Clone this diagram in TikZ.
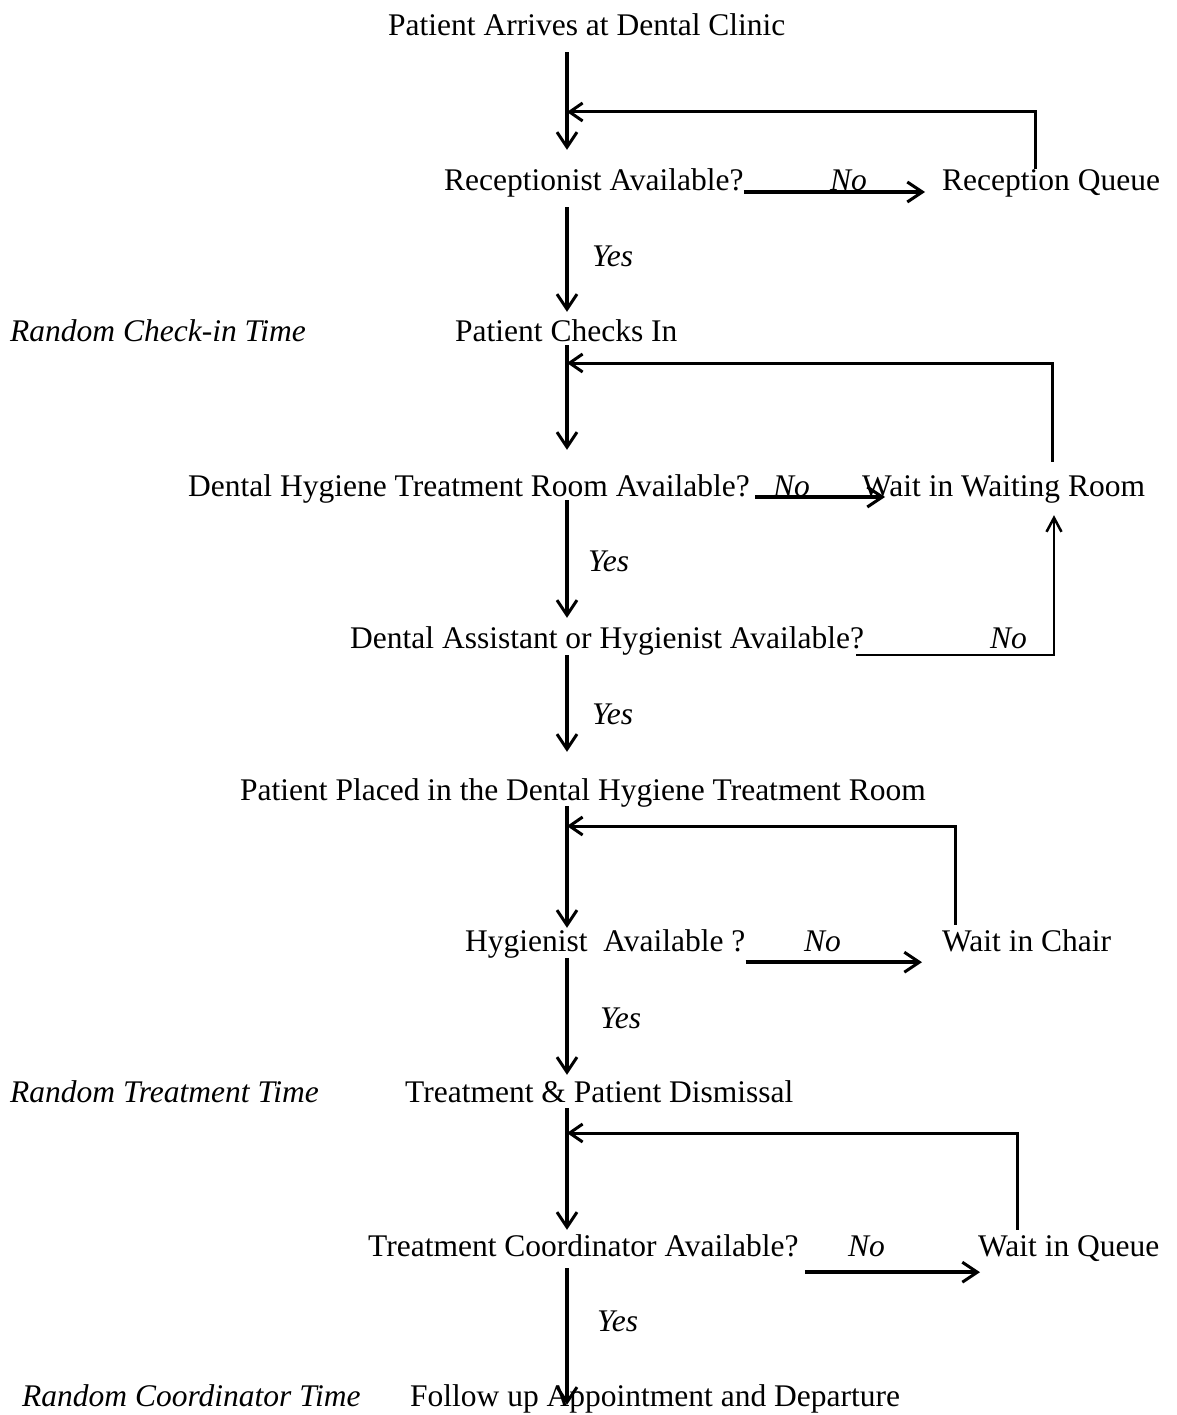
\documentclass[tikz,border=0pt]{standalone}
\usepackage{fontspec}
\setmainfont{Liberation Serif}
\usetikzlibrary{arrows.meta}
\begin{document}
\begin{tikzpicture}[x=1pt,y=-1pt,
 txt/.style={anchor=base west, inner sep=0pt, text height=22pt, text depth=7pt, font=\fontsize{31.5}{36}\selectfont},
 lbl/.style={txt, font=\fontsize{31.5}{36}\selectfont\itshape},
 flow/.style={line width=3.5pt, -{Straight Barb[length=15pt,width=20pt,line width=3pt]}},
 fb/.style={line width=3pt, -{Straight Barb[length=13pt,width=18pt,line width=3pt]}},
 thinflow/.style={line width=2pt, -{Straight Barb[length=14pt,width=15pt,line width=2.5pt]}}
]
\useasboundingbox (0,0) rectangle (1176,1415);

% main texts
\node[txt] (title)   at (388,36)   {Patient Arrives at Dental Clinic};
\node[txt] (recep)   at (444,191)  {Receptionist Available?};
\node[txt] (rq)      at (942,191)  {Reception Queue};
\node[lbl] (rand1)   at (10,341)   {Random Check-in Time};
\node[txt] (checkin) at (455,341)  {Patient Checks In};
\node[txt] (dhroom)  at (188,496)  {Dental Hygiene Treatment Room Available?};
\node[txt] (wwr)     at (862,496)  {Wait in Waiting Room};
\node[txt] (assist)  at (350,648)  {Dental Assistant or Hygienist Available?};
\node[txt] (placed)  at (240,800)  {Patient Placed in the Dental Hygiene Treatment Room};
\node[txt] (hyg)     at (465,951)  {Hygienist\ \ Available ?};
\node[txt] (chair)   at (942,951)  {Wait in Chair};
\node[lbl] (rand2)   at (10,1102)  {Random Treatment Time};
\node[txt] (dismiss) at (405,1102) {Treatment \& Patient Dismissal};
\node[txt] (coord)   at (368,1256) {Treatment Coordinator Available?};
\node[txt] (wq)      at (978,1256) {Wait in Queue};
\node[lbl] (rand3)   at (22,1406)  {Random Coordinator Time};
\node[txt] (follow)  at (410,1406) {Follow up Appointment and Departure};

% branch labels
\node[lbl] (yes1) at (592,266)  {Yes};
\node[lbl] (yes2) at (588,571)  {Yes};
\node[lbl] (yes3) at (592,724)  {Yes};
\node[lbl] (yes4) at (600,1028) {Yes};
\node[lbl] (yes5) at (597,1331) {Yes};
\node[lbl] (no1) at (830,191)  {No};
\node[lbl] (no2) at (773,496)  {No};
\node[lbl] (no3) at (990,648)  {No};
\node[lbl] (no4) at (804,951)  {No};
\node[lbl] (no5) at (848,1256) {No};

% helper coordinates
\coordinate (sp) at (567,0);
\coordinate (q1) at (1035,0);
\coordinate (q2) at (1052,0);
\coordinate (q3) at (1054,0);
\coordinate (q4) at (955,0);
\coordinate (q5) at (1017,0);
\coordinate (j1) at (567,112);
\coordinate (j2) at (567,363);
\coordinate (j3) at (567,826);
\coordinate (j4) at (567,1133);

% main flow
\draw[flow, shorten <=9pt, shorten >=19pt] (title.south -| sp) -- (recep.north -| sp);
\draw[flow, shorten <=9pt, shorten >=7pt] (recep.south -| sp) -- (checkin.north -| sp);
\draw[flow, shorten <=-3pt, shorten >=24pt] (checkin.south -| sp) -- (dhroom.north -| sp);
\draw[flow, shorten <=-3pt, shorten >=8pt] (dhroom.south -| sp) -- (assist.north -| sp);
\draw[flow, shorten >=26pt] (assist.south -| sp) -- (placed.north -| sp);
\draw[flow, shorten <=-1pt, shorten >=1pt] (placed.south -| sp) -- (hyg.north -| sp);
\draw[flow, shorten >=5pt] (hyg.south -| sp) -- (dismiss.north -| sp);
\draw[flow, shorten <=-1pt, shorten >=4pt] (dismiss.south -| sp) -- (coord.north -| sp);
\draw[flow, shorten <=5pt, shorten >=-21pt] (coord.south -| sp) -- (follow.north -| sp);

% "No" branches
\draw[flow, shorten >=17pt] ([yshift=-1pt]recep.base east) -- ([yshift=-1pt]rq.base west);
\draw[flow, shorten <=5pt, shorten >=-23pt] ([yshift=-1pt]dhroom.base east) -- ([yshift=-1pt]wwr.base west);
\draw[thinflow, shorten >=12pt] ([xshift=-8pt]assist.south east) -| (wwr.south -| q3);
\draw[flow, shorten >=20pt] ([yshift=-4pt]hyg.south east) -- ([yshift=-4pt]chair.south west);
\draw[flow, shorten <=6pt, shorten >=-2pt] ([yshift=-9pt]coord.south east) -- ([yshift=-9pt]wq.south west);

% feedback loops
\draw[fb] (rq.north -| q1) |- (j1);
\draw[fb, shorten <=12pt] (wwr.north -| q2) |- (j2);
\draw[fb, shorten <=4pt] (chair.north -| q4) |- (j3);
\draw[fb, shorten <=4pt] (wq.north -| q5) |- (j4);
\end{tikzpicture}
\end{document}
